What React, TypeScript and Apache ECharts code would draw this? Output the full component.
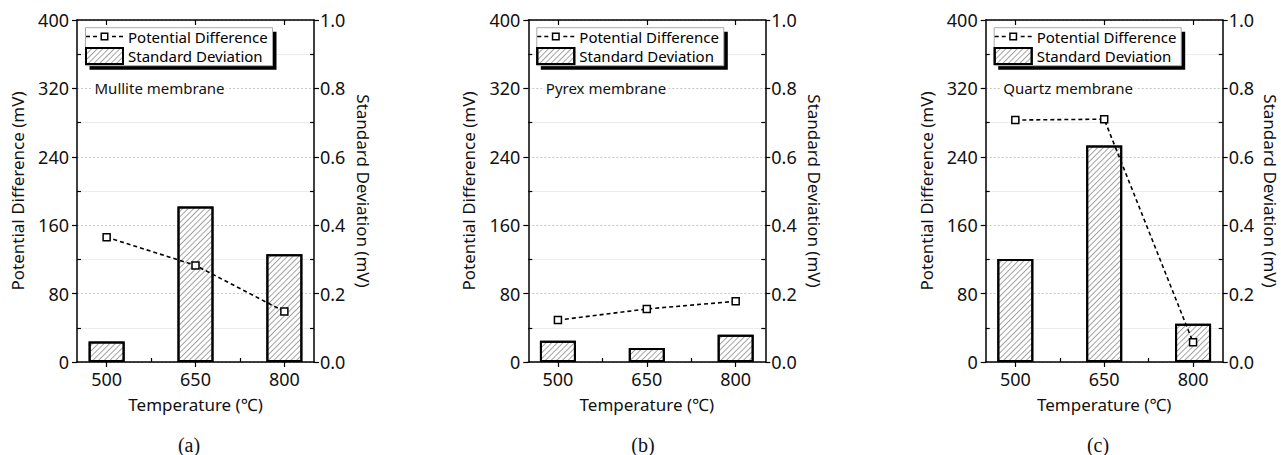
import React, { useEffect, useRef } from 'react';
import * as echarts from 'echarts';

// ---- data ----
const temperatures = [500, 650, 800];
const minorTemps = [575, 725];
const axisStart = 450;
const axisEnd = 850;
const axisStep = 25;

const panelNames = ['Mullite membrane', 'Pyrex membrane', 'Quartz membrane'];
const captions = ['(a)', '(b)', '(c)'];

const mulliteSD = [0.06, 0.455, 0.315];
const mullitePD = [146, 113, 59];
const pyrexSD = [0.0625, 0.041, 0.08];
const pyrexPD = [49, 62, 71];
const quartzSD = [0.301, 0.633, 0.112];
const quartzPD = [283, 284, 23];

const leftTicks = [0, 80, 160, 240, 320, 400];
const rightTicks = [0, 0.2, 0.4, 0.6, 0.8, 1.0];

const sdSeries = [mulliteSD, pyrexSD, quartzSD];
const pdSeries = [mullitePD, pyrexPD, quartzPD];

const PD_NAME = 'Potential Difference';
const SD_NAME = 'Standard Deviation';

// ---- layout ----
const gridLefts = [77, 528.3, 985.7];
const gridWidth = 237;
const gridTop = 20;
const gridHeight = 342;
const captionX = [189, 643, 1098];
const rightNameGaps = [41, 41, 39];
const FONT = 'Noto Sans';

const categories: string[] = [];
for (let t = axisStart; t <= axisEnd; t += axisStep) categories.push(String(t));

const hatch = {
  symbol: 'rect',
  symbolSize: 1,
  color: 'rgba(0,0,0,0.36)',
  dashArrayX: [1, 0],
  dashArrayY: [1, 3],
  rotation: -Math.PI / 4,
};

const lineIcon =
  'path://M0 3.25H4V4.75H0Z M7 3.25H11V4.75H7Z M14.5 0H22.5V8H14.5Z M16 1.5V6.5H21V1.5Z M26 3.25H30V4.75H26Z M33 3.25H37V4.75H33Z';

function buildOption() {
  const grid: any[] = [];
  const xAxis: any[] = [];
  const yAxis: any[] = [];
  const series: any[] = [];
  const legend: any[] = [];
  const graphic: any[] = [];

  const isMajor = (i: number) => temperatures.indexOf(Number(categories[i])) >= 0;
  const isMinor = (i: number) => minorTemps.indexOf(Number(categories[i])) >= 0;
  const axisLineStyle = { color: '#000', width: 1.5 };

  for (let p = 0; p < 3; p++) {
    grid.push({ left: gridLefts[p], top: gridTop, width: gridWidth, height: gridHeight, containLabel: false });

    // bottom main x-axis
    xAxis.push({
      type: 'category', gridIndex: p, position: 'bottom', data: categories, boundaryGap: false,
      name: 'Temperature (\u2103)', nameLocation: 'middle', nameGap: 34,
      nameTextStyle: { fontSize: 17, color: '#111', fontFamily: FONT },
      axisLine: { show: true, onZero: false, lineStyle: axisLineStyle },
      axisTick: { show: true, inside: false, length: 5, interval: (i: number) => isMajor(i), lineStyle: { color: '#000', width: 1.2 } },
      axisLabel: { show: true, interval: (i: number) => isMajor(i), fontSize: 18, color: '#111', margin: 8, fontFamily: FONT },
      splitLine: { show: false },
    });
    // bottom minor ticks
    xAxis.push({
      type: 'category', gridIndex: p, position: 'bottom', data: categories, boundaryGap: false,
      axisLine: { show: false, onZero: false },
      axisTick: { show: true, inside: true, length: 4, interval: (i: number) => isMinor(i), lineStyle: { color: '#000', width: 1.2 } },
      axisLabel: { show: false },
      splitLine: { show: false },
    });
    // top mirror axis
    xAxis.push({
      type: 'category', gridIndex: p, position: 'top', data: categories, boundaryGap: false,
      axisLine: { show: true, onZero: false, lineStyle: axisLineStyle },
      axisTick: { show: true, inside: true, length: 5, interval: (i: number) => isMajor(i), lineStyle: { color: '#000', width: 1.2 } },
      axisLabel: { show: false },
      splitLine: { show: false },
    });

    yAxis.push({
      type: 'value', gridIndex: p, position: 'left',
      min: leftTicks[0], max: leftTicks[leftTicks.length - 1], interval: leftTicks[1] - leftTicks[0],
      name: 'Potential Difference (mV)', nameLocation: 'middle', nameGap: 51,
      nameTextStyle: { fontSize: 17, color: '#111', fontFamily: FONT },
      axisLine: { show: true, lineStyle: axisLineStyle },
      axisTick: { show: true, inside: true, length: -5, lineStyle: { color: '#000', width: 1.2 } },
      minorTick: { show: true, splitNumber: 2, length: 4, lineStyle: { color: '#000', width: 1.2 } },
      axisLabel: { fontSize: 18, color: '#111', margin: 8, fontFamily: FONT },
      splitLine: { show: true, lineStyle: { color: '#c8c8c8', type: [2, 2], width: 1 } },
      minorSplitLine: { show: true, lineStyle: { color: '#ececec', width: 1 } },
    });
    yAxis.push({
      type: 'value', gridIndex: p, position: 'right',
      min: rightTicks[0], max: rightTicks[rightTicks.length - 1], interval: rightTicks[1] - rightTicks[0],
      name: 'Standard Deviation (mV)', nameLocation: 'middle', nameGap: rightNameGaps[p], nameRotate: -90,
      nameTextStyle: { fontSize: 17, color: '#111', fontFamily: FONT },
      axisLine: { show: true, lineStyle: axisLineStyle },
      axisTick: { show: true, inside: true, length: -5, lineStyle: { color: '#000', width: 1.2 } },
      minorTick: { show: true, splitNumber: 2, length: 4, lineStyle: { color: '#000', width: 1.2 } },
      axisLabel: { fontSize: 18, color: '#111', margin: 6, fontFamily: FONT, formatter: (v: number) => v.toFixed(1) },
      splitLine: { show: false },
    });

    series.push({
      type: 'bar', name: SD_NAME, xAxisIndex: p * 3, yAxisIndex: p * 2 + 1,
      barWidth: 36,
      data: temperatures.map((t, k) => [categories.indexOf(String(t)), sdSeries[p][k]]),
      itemStyle: { color: '#fff', borderColor: '#000', borderWidth: 2, decal: hatch },
      z: 2,
    });
    series.push({
      type: 'line', name: PD_NAME, xAxisIndex: p * 3, yAxisIndex: p * 2,
      data: temperatures.map((t, k) => [categories.indexOf(String(t)), pdSeries[p][k]]),
      symbol: 'rect', symbolSize: 7,
      itemStyle: { color: '#fff', borderColor: '#000', borderWidth: 1.5 },
      lineStyle: { color: '#000', width: 1.6, type: [4, 3] },
      z: 3,
    });

    const bx = gridLefts[p] + 8.5;
    const by = 27.7;
    graphic.push({ type: 'rect', z: 5, shape: { x: bx + 4, y: by + 4, width: 187, height: 38 }, style: { fill: '#000' } });
    graphic.push({ type: 'rect', z: 6, shape: { x: bx, y: by, width: 187, height: 38 }, style: { fill: '#fff', stroke: '#aaa', lineWidth: 1 } });
    graphic.push({
      type: 'text', z: 6, x: gridLefts[p] + 15.5, y: 88,
      style: { text: panelNames[p], fontSize: 15, fontFamily: FONT, fill: '#111', verticalAlign: 'middle', align: 'left', backgroundColor: '#fff', padding: [0, 2] },
    });
    graphic.push({
      type: 'text', z: 6, x: captionX[p], y: 445,
      style: { text: captions[p], fontSize: 20, fontFamily: 'Liberation Serif', fill: '#111', verticalAlign: 'middle', align: 'center' },
    });

    legend.push({
      z: 10, left: gridLefts[p] + 8, top: 29, orient: 'vertical', padding: 0, itemGap: 3,
      itemWidth: 37, itemHeight: 16, selectedMode: false,
      textStyle: { fontSize: 15, color: '#000', fontFamily: FONT },
      data: [
        { name: PD_NAME, icon: lineIcon, itemStyle: { color: '#000', borderWidth: 0 } },
        { name: SD_NAME, icon: 'rect' },
      ],
    });
  }

  return {
    animation: false,
    backgroundColor: '#fff',
    textStyle: { fontFamily: FONT },
    grid, xAxis, yAxis, series, legend, graphic,
  };
}

export default function App() {
  const ref = useRef<HTMLDivElement>(null);
  useEffect(() => {
    document.body.style.margin = '0';
    if (!ref.current) return;
    const chart = echarts.init(ref.current, undefined, { renderer: 'svg' });
    chart.setOption(buildOption() as any);
    return () => chart.dispose();
  }, []);
  return <div ref={ref} style={{ width: 1281, height: 455 }} />;
}
